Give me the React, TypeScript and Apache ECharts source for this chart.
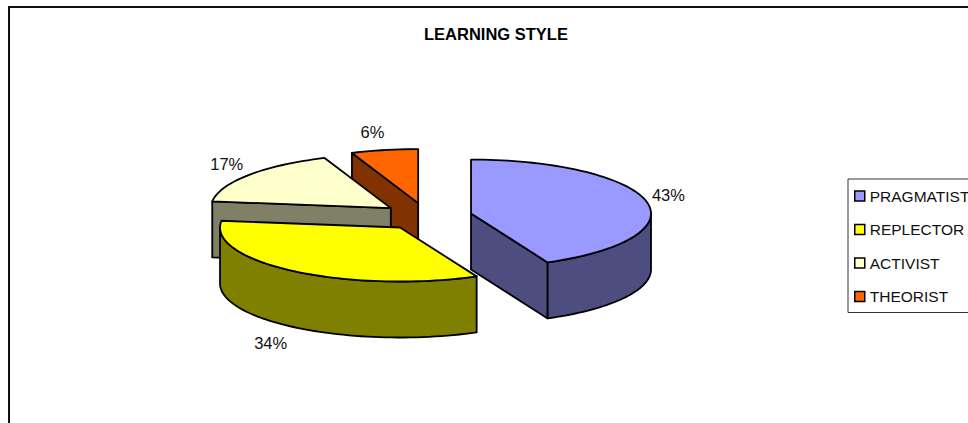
import React, { useEffect, useRef } from "react";
import * as echarts from "echarts";

const titleText = "LEARNING STYLE";
const categories = ["PRAGMATIST", "REPLECTOR", "ACTIVIST", "THEORIST"];
const percents = [43, 34, 17, 6];
const topColors = ["#9999FF", "#FFFF00", "#FFFFCC", "#FF6600"];
const sideColors = ["#4D4D80", "#808000", "#808066", "#803300"];
// Painter's order, back to front, as indexes into the lists above.
const drawOrder = [3, 2, 0, 1];
// Per-slice nudge of the percent label from its default radial position.
const labelNudges = [[1, -3], [-11, 1], [-5, 0], [-8, 0]];

const CX = 426.7;
const CY = 216.5;
const RX = 180;
const RY = 54;
const DEPTH = 56;
const EXPLODE = 45.4;
const SQUASH = 0.3;
const DEG = Math.PI / 180;

function sliceAngles(index: number) {
  const total = percents.reduce((a, b) => a + b, 0);
  let start = 0;
  for (let i = 0; i < index; i++) start += (percents[i] / total) * 360;
  return [start, start + (percents[index] / total) * 360];
}

function renderSlice(index: number) {
  return (_params: any, api: any) => {
    const value = api.value(0);
    const [a0, a1] = sliceAngles(index);
    const mid = (a0 + a1) / 2;
    const ox = CX + EXPLODE * Math.sin(mid * DEG);
    const oy = CY - EXPLODE * SQUASH * Math.cos(mid * DEG);
    const rim = (a: number, dz = 0) => [
      ox + RX * Math.sin(a * DEG),
      oy - RY * Math.cos(a * DEG) + dz,
    ];
    const arc = (from: number, to: number, dz = 0) => {
      const n = Math.max(2, Math.ceil(Math.abs(to - from) / 2));
      const pts: number[][] = [];
      for (let i = 0; i <= n; i++) pts.push(rim(from + ((to - from) * i) / n, dz));
      return pts;
    };
    const line = { stroke: "#000", lineWidth: 1.8, lineJoin: "round" };
    const children: any[] = [];
    const face = (a: number) => ({
      type: "polygon",
      shape: { points: [[ox, oy], rim(a), rim(a, DEPTH), [ox, oy + DEPTH]] },
      style: { fill: sideColors[index], ...line },
    });
    if (Math.sin(a0 * DEG) < -1e-6) children.push(face(a0));
    if (Math.sin(a1 * DEG) > 1e-6) children.push(face(a1));
    const w0 = Math.max(a0, 90);
    const w1 = Math.min(a1, 270);
    if (w1 > w0) {
      children.push({
        type: "polygon",
        shape: { points: [...arc(w0, w1), ...arc(w1, w0, DEPTH)] },
        style: { fill: sideColors[index], ...line },
      });
    }
    children.push({
      type: "polygon",
      shape: { points: [[ox, oy], ...arc(a0, a1)] },
      style: { fill: topColors[index], ...line },
    });
    const dx = Math.sin(mid * DEG);
    const dy = -Math.cos(mid * DEG);
    const [nx, ny] = labelNudges[index];
    const front = dy > 0 ? DEPTH : 0;
    children.push({
      type: "text",
      x: ox + RX * dx * 0.985 + 24 * dx + nx,
      y: oy + RY * dy + front + 18 * dy + ny,
      style: {
        text: `${value}%`,
        fontFamily: "Liberation Sans",
        fontSize: 16.5,
        fill: "#111",
        align: "center",
        verticalAlign: "middle",
      },
    });
    return { type: "group", children };
  };
}

export default function App() {
  const ref = useRef<HTMLDivElement>(null);
  useEffect(() => {
    const chart = echarts.init(ref.current!, undefined, { renderer: "svg" });
    chart.setOption({
      animation: false,
      backgroundColor: "#fff",
      title: {
        text: titleText,
        left: 496,
        top: 25,
        textAlign: "center",
        padding: 0,
        textStyle: {
          fontFamily: "Liberation Sans",
          fontSize: 16.5,
          fontWeight: "bold",
          color: "#000",
        },
      },
      legend: {
        data: categories,
        left: 848,
        top: 179,
        orient: "vertical",
        icon: "rect",
        itemWidth: 10,
        itemHeight: 10,
        itemGap: 17.5,
        padding: [9, 10, 8, 6],
        borderColor: "#333",
        borderWidth: 1,
        backgroundColor: "#fff",
        selectedMode: false,
        itemStyle: { borderColor: "#000", borderWidth: 1.5 },
        textStyle: {
          fontFamily: "Liberation Sans",
          fontSize: 15.5,
          color: "#111",
        },
      },
      graphic: [
        {
          type: "rect",
          silent: true,
          z: -1,
          shape: { x: 9, y: 7, width: 1000, height: 500 },
          style: { fill: "none", stroke: "#111", lineWidth: 2 },
        },
      ],
      series: drawOrder.map((i) => ({
        type: "custom",
        name: categories[i],
        coordinateSystem: "none",
        itemStyle: { color: topColors[i] },
        data: [[percents[i]]],
        renderItem: renderSlice(i),
      })),
    });
    return () => chart.dispose();
  }, []);
  return (
    <div
      ref={ref}
      style={{ position: "absolute", left: 0, top: 0, width: 968, height: 423 }}
    />
  );
}
